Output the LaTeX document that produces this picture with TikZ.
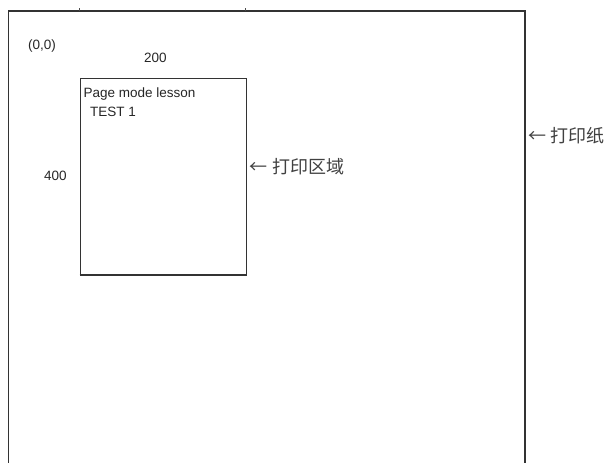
\documentclass[tikz,border=0pt]{standalone}
\usepackage{fontspec}
\setmainfont{Liberation Sans}
\newfontfamily\cjk{Noto Sans CJK SC}
\begin{document}
\begin{tikzpicture}[x=1pt,y=-1pt,
  edge/.style={draw=black!80,line width=1.1pt},
  lbl/.style={inner sep=0pt,anchor=west,font=\fontsize{13.5}{15}\selectfont,text=black!85},
  cjklbl/.style={inner sep=0pt,anchor=west,font=\cjk\fontsize{18}{20}\selectfont,text=black!75}]
\useasboundingbox (0,0) rectangle (611,463);
% paper
\coordinate (pbl) at (8.5,463);
\coordinate (ptl) at (8.5,11);
\coordinate (ptr) at (525,11);
\coordinate (pbr) at (525,463);
\draw[edge] (pbl) -- (ptl) -- (ptr) -- (pbr);
% ticks
\coordinate (t1) at (79.5,8);
\coordinate (t2) at (245.5,8);
\draw[draw=black!70,line width=0.6pt] (t1) -- (79.5,11) (t2) -- (245.5,11);
% print area
\node[edge,draw,minimum width=166pt,minimum height=196pt,inner sep=0pt,anchor=north west] (area) at (79.5,77.5) {};
\draw[draw=black!80,line width=1.8pt] (area.south west) -- (area.south east);
% labels
\node[lbl] (origin) at (28,46.5) {(0,0)};
\node[lbl] (w) at (144,57.5) {200};
\node[lbl] (h) at (44,175.5) {400};
\node[lbl] (t1l) at (83.5,94) {Page mode lesson};
\node[lbl] (t2l) at (90,112) {TEST 1};
\node[cjklbl] (arealbl) at (249,167) {←\hspace{5pt}打印区域};
\node[cjklbl] (paperlbl) at (528,136) {←\hspace{4pt}打印纸};
\end{tikzpicture}
\end{document}
